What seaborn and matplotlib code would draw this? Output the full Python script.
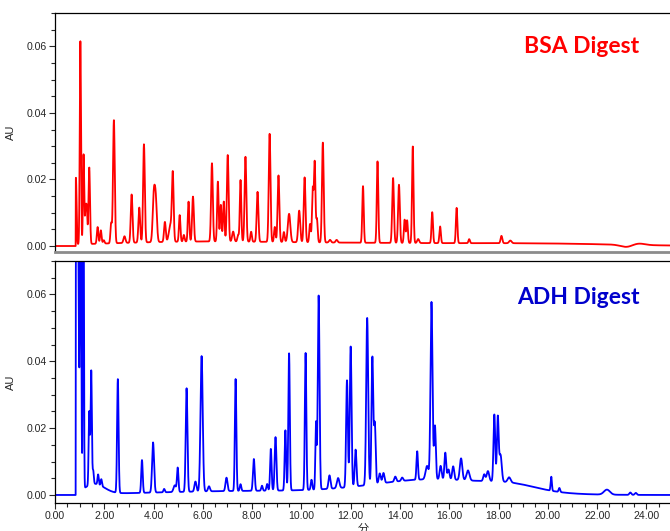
import numpy as np
import matplotlib
matplotlib.use('Agg')
import matplotlib.pyplot as plt
from matplotlib.ticker import MultipleLocator, FormatStrFormatter
import seaborn as sns

# BSA peaks: retention time (min), height (AU), width (sigma, min)
bsa_time = [0.85, 1.03, 1.16, 1.24, 1.29, 1.39, 1.73, 1.86, 1.98, 2.28, 2.39, 2.82,
            3.11, 3.42, 3.61, 4.01, 4.09, 4.46, 4.68, 4.78, 5.06, 5.23, 5.42, 5.60,
            6.37, 6.61, 6.73, 6.85, 7.01, 7.23, 7.43, 7.53, 7.73, 7.96, 8.22, 8.71,
            8.92, 9.07, 9.29, 9.50, 9.91, 10.13, 10.35, 10.46, 10.54, 10.63, 10.87,
            11.16, 11.43, 12.50, 13.09, 13.72, 13.96, 14.19, 14.29, 14.52, 14.74,
            15.31, 15.63, 16.30, 16.81, 18.12, 18.48, 23.67]
bsa_height = [0.020, 0.061, 0.027, 0.010, 0.010, 0.023, 0.005, 0.004, 0.001, 0.006, 0.037, 0.002,
              0.0145, 0.0105, 0.0295, 0.0135, 0.012, 0.006, 0.005, 0.020, 0.008, 0.002, 0.012, 0.0135,
              0.0235, 0.018, 0.011, 0.012, 0.026, 0.003, 0.002, 0.0185, 0.0255, 0.003, 0.015, 0.0325,
              0.0045, 0.020, 0.003, 0.0085, 0.0095, 0.0195, 0.0055, 0.016, 0.024, 0.007, 0.030,
              0.0008, 0.0008, 0.017, 0.0245, 0.0195, 0.0175, 0.007, 0.0068, 0.029, 0.0012,
              0.0093, 0.005, 0.0106, 0.0012, 0.0022, 0.0008, 0.0005]
bsa_width = [0.025, 0.025, 0.025, 0.025, 0.025, 0.03, 0.03, 0.03, 0.03, 0.03, 0.035, 0.04,
             0.035, 0.035, 0.035, 0.045, 0.045, 0.035, 0.06, 0.035, 0.03, 0.03, 0.03, 0.035,
             0.035, 0.03, 0.03, 0.03, 0.035, 0.04, 0.03, 0.03, 0.035, 0.03, 0.035, 0.035,
             0.03, 0.035, 0.03, 0.05, 0.04, 0.035, 0.03, 0.03, 0.03, 0.03, 0.035,
             0.04, 0.04, 0.03, 0.03, 0.035, 0.035, 0.03, 0.03, 0.03, 0.04,
             0.03, 0.03, 0.03, 0.03, 0.035, 0.05, 0.25]
# BSA baseline drift (broad components)
bsa_base_time = [5.5, 13.0, 20.0, 23.2]
bsa_base_height = [0.0012, 0.0008, 0.0006, -0.0007]
bsa_base_width = [3.5, 4.0, 3.0, 0.25]

# ADH peaks
adh_time = [0.90, 1.04, 1.15, 1.39, 1.47, 1.55, 1.75, 1.88, 2.55, 3.53, 3.98, 4.43,
            4.86, 4.98, 5.34, 5.70, 5.95, 6.25, 6.96, 7.33, 7.53, 8.07, 8.40, 8.61,
            8.76, 8.95, 9.35, 9.50, 10.17, 10.41, 10.59, 10.70, 11.14, 11.49, 11.85,
            12.00, 12.20, 12.67, 12.88, 12.98, 13.18, 13.33, 13.81, 14.09, 14.70, 15.10,
            15.28, 15.42, 15.65, 15.84, 15.97, 16.16, 16.48, 16.76, 17.42, 17.57, 17.83,
            17.97, 18.08, 18.43, 20.14, 20.47, 22.40, 23.35, 23.57]
adh_height = [0.12, 0.10, 0.12, 0.022, 0.034, 0.004, 0.003, 0.002, 0.034, 0.0098, 0.015, 0.001,
              0.002, 0.0072, 0.031, 0.003, 0.0405, 0.0015, 0.004, 0.0335, 0.002, 0.0095, 0.0015, 0.002,
              0.0125, 0.016, 0.018, 0.041, 0.041, 0.003, 0.020, 0.058, 0.004, 0.003, 0.032,
              0.042, 0.011, 0.050, 0.038, 0.018, 0.003, 0.003, 0.0015, 0.001, 0.0085, 0.004,
              0.053, 0.016, 0.004, 0.008, 0.003, 0.004, 0.0065, 0.003, 0.002, 0.003, 0.020,
              0.019, 0.008, 0.0015, 0.0042, 0.0012, 0.0015, 0.0007, 0.0006]
adh_width = [0.05, 0.025, 0.02, 0.025, 0.025, 0.025, 0.025, 0.025, 0.03, 0.03, 0.04, 0.03,
             0.05, 0.03, 0.035, 0.04, 0.045, 0.04, 0.04, 0.03, 0.03, 0.035, 0.03, 0.03,
             0.03, 0.035, 0.03, 0.03, 0.03, 0.03, 0.025, 0.035, 0.04, 0.05, 0.035,
             0.035, 0.035, 0.04, 0.035, 0.035, 0.04, 0.04, 0.04, 0.04, 0.03, 0.06,
             0.04, 0.035, 0.04, 0.035, 0.04, 0.04, 0.05, 0.06, 0.04, 0.05, 0.035,
             0.035, 0.05, 0.06, 0.025, 0.03, 0.12, 0.04, 0.04]
adh_base_time = [1.6, 8.0, 15.5, 18.6]
adh_base_height = [0.003, 0.0012, 0.0045, 0.0015]
adh_base_width = [0.4, 4.0, 2.5, 1.0]

injection_time = 0.84
x_end = 25.0

# Grid of time points, chromatogram = sum of peaks
t = np.linspace(0, x_end, 6001)

def trace(times, heights, widths, btimes, bheights, bwidths):
    y = np.zeros_like(t)
    for c, h, w in zip(list(times) + list(btimes), list(heights) + list(bheights),
                       list(widths) + list(bwidths)):
        y += h * np.exp(-(t - c) ** 2 / (2 * w ** 2))
    y[t < injection_time] = 0.0
    return y

bsa = trace(bsa_time, bsa_height, bsa_width, bsa_base_time, bsa_base_height, bsa_base_width)
adh = trace(adh_time, adh_height, adh_width, adh_base_time, adh_base_height, adh_base_width)

sns.set_style('ticks')
plt.rcParams['font.family'] = ['Liberation Sans', 'Noto Sans CJK JP', 'DejaVu Sans']

fig = plt.figure(figsize=(6.7, 5.31), dpi=100)
ax1 = fig.add_axes([55 / 670, 1 - 252 / 531, 616 / 670, 239 / 531])
ax2 = fig.add_axes([55 / 670, 1 - 503 / 531, 616 / 670, 242 / 531])

sns.lineplot(x=t, y=bsa, ax=ax1, color='#FF0000', linewidth=1.3, estimator=None)
sns.lineplot(x=t, y=adh, ax=ax2, color='#0000FF', linewidth=1.3, estimator=None)

ax1.set_ylim(-0.0018, 0.07)
ax2.set_ylim(-0.0024, 0.07)

for ax in (ax1, ax2):
    ax.set_xlim(0, x_end)
    ax.yaxis.set_major_locator(MultipleLocator(0.02))
    ax.yaxis.set_minor_locator(MultipleLocator(0.005))
    ax.yaxis.set_major_formatter(FormatStrFormatter('%.2f'))
    ax.xaxis.set_major_locator(MultipleLocator(2))
    ax.xaxis.set_minor_locator(MultipleLocator(0.5))
    ax.xaxis.set_major_formatter(FormatStrFormatter('%.2f'))
    ax.tick_params(axis='both', which='major', length=4.5, width=0.8, labelsize=7.6, pad=1.2)
    ax.tick_params(axis='both', which='minor', length=2.8, width=0.8)
    ax.set_ylabel('AU', fontsize=8, labelpad=8)
    ax.spines['right'].set_visible(False)
    for s in ('left', 'top', 'bottom'):
        ax.spines[s].set_linewidth(0.9)
        ax.spines[s].set_color('black')
    ax.set_facecolor('white')

# top panel: grey baseline frame, no x ticks
ax1.spines['bottom'].set_color('#8c8c8c')
ax1.spines['bottom'].set_linewidth(2)
ax1.tick_params(axis='x', which='both', bottom=False, labelbottom=False)
ax1.set_xlabel('')

ax2.set_xlabel('分', fontsize=8, labelpad=2)

ax1.text(0.854, 0.858, 'BSA Digest', transform=ax1.transAxes, ha='center', va='center',
         fontsize=16.5, fontweight='bold', color='#FF0000', family='Lato')
ax2.text(0.849, 0.851, 'ADH Digest', transform=ax2.transAxes, ha='center', va='center',
         fontsize=16.5, fontweight='bold', color='#0000CC', family='Lato')

fig.savefig('out.png', dpi=100)
